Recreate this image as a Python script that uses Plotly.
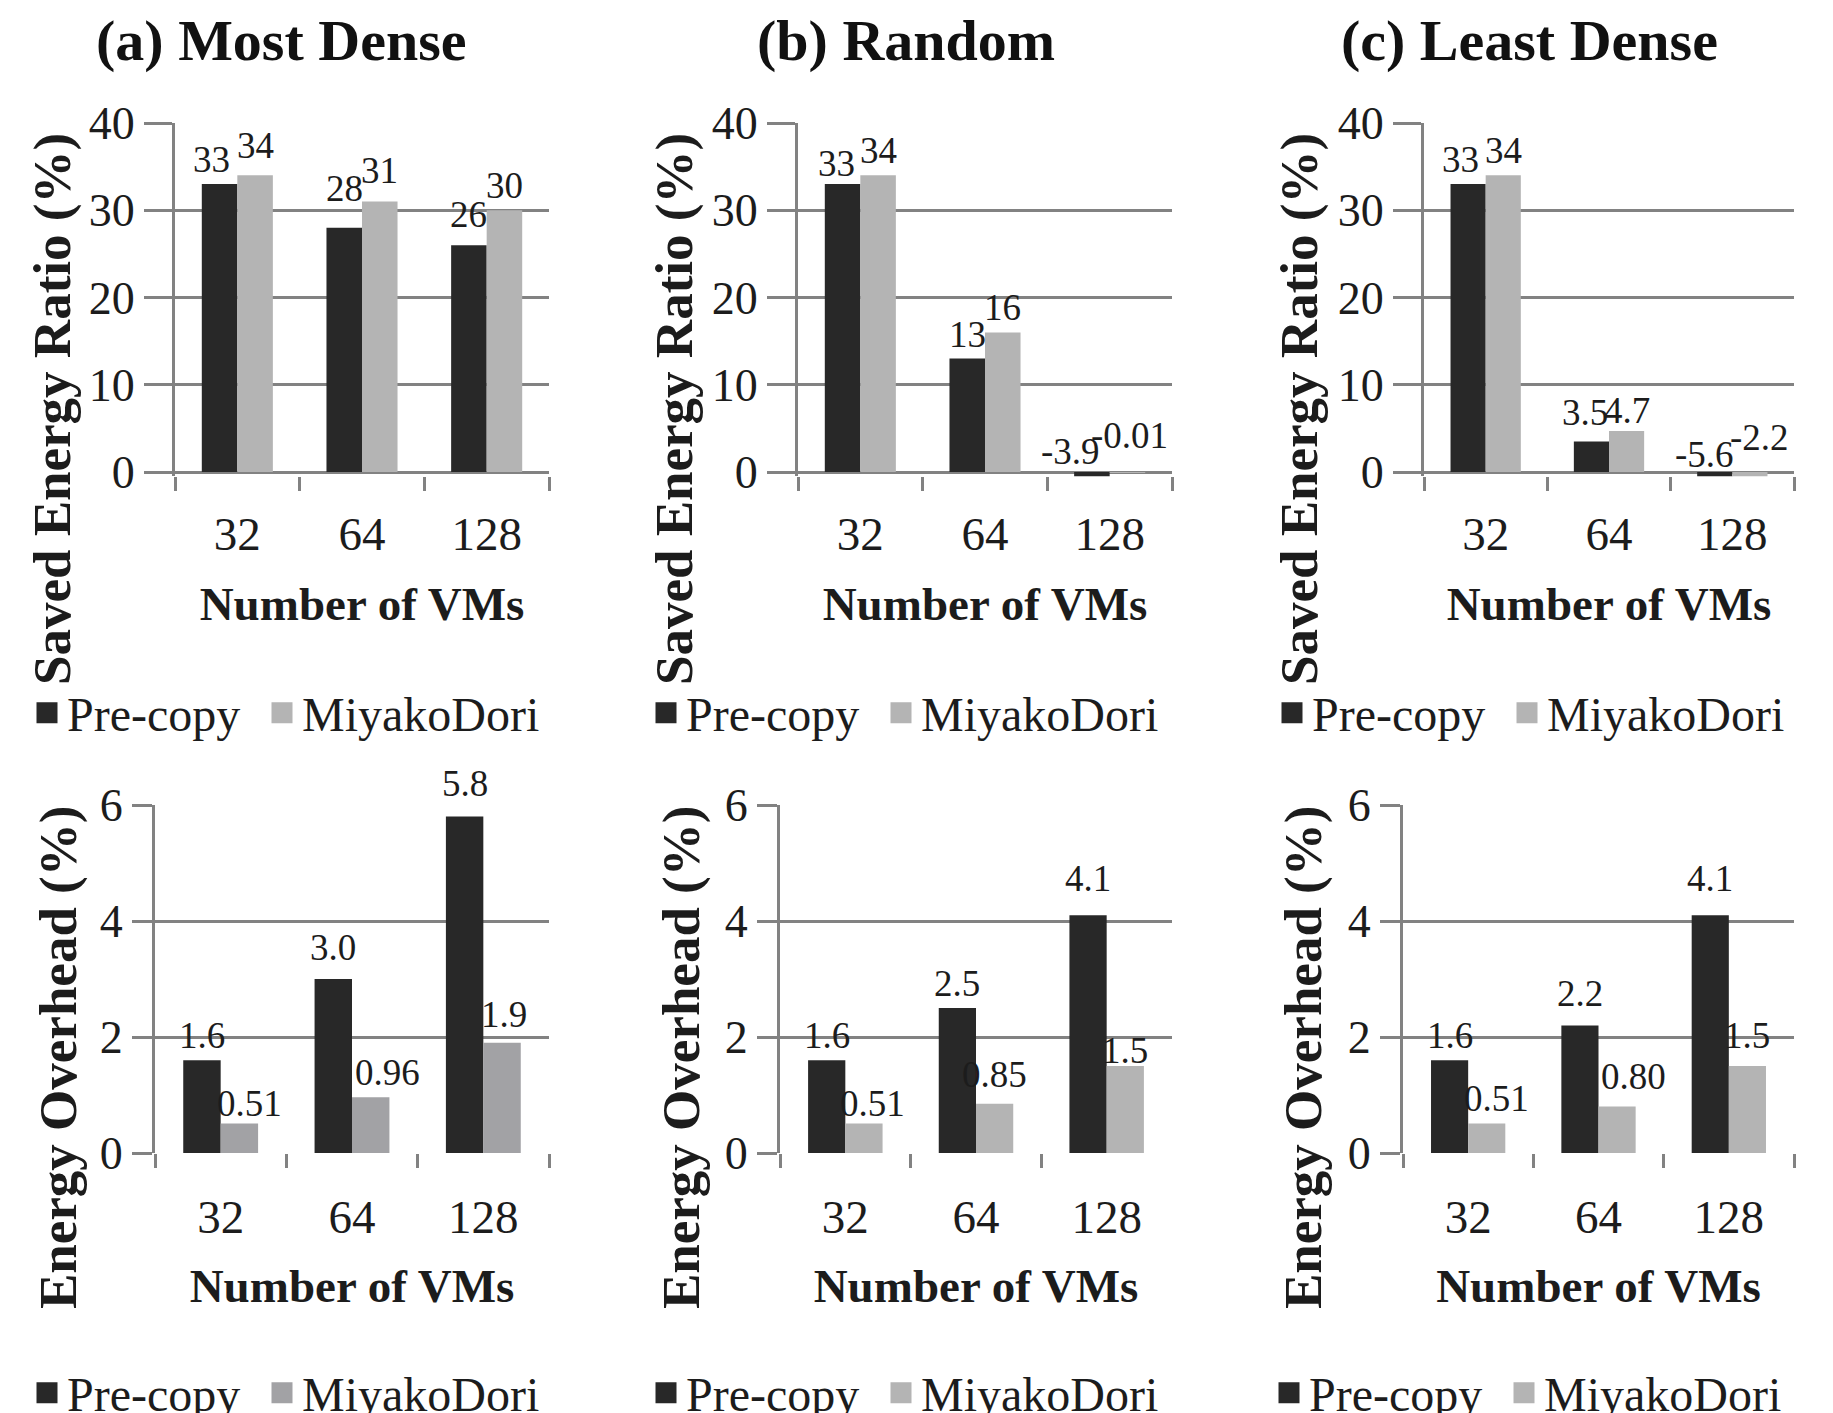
import plotly.graph_objects as go

# ---------------- data ----------------
categories = ["32", "64", "128"]
series_names = ["Pre-copy", "MiyakoDori"]
panel_titles = ["(a) Most Dense", "(b) Random", "(c) Least Dense"]

saved_precopy_most = [33, 28, 26]
saved_miyako_most = [34, 31, 30]
saved_precopy_random = [33, 13, -3.9]
saved_miyako_random = [34, 16, -0.01]
saved_precopy_least = [33, 3.5, -5.6]
saved_miyako_least = [34, 4.7, -2.2]

overhead_precopy_most = [1.6, 3.0, 5.8]
overhead_miyako_most = [0.51, 0.96, 1.9]
overhead_precopy_random = [1.6, 2.5, 4.1]
overhead_miyako_random = [0.51, 0.85, 1.5]
overhead_precopy_least = [1.6, 2.2, 4.1]
overhead_miyako_least = [0.51, 0.80, 1.5]

saved_ticks = [0, 10, 20, 30, 40]
overhead_ticks = [0, 2, 4, 6]

x_title = "Number of VMs"
saved_title = "Saved Energy Ratio (%)"
overhead_title = "Energy Overhead (%)"

# ---------------- style / geometry ----------------
W, H = 1833, 1413
OFF = 8  # page body margin compensation
FONT = "Liberation Serif"
TXT = "#1c1c1c"
GRID = "#828282"
DARK = "#282828"
LIGHT = "#b4b4b4"
LIGHT_ALT = "#a2a2a5"

top_x = [(175, 549), (798, 1172), (1424, 1794)]
bot_x = [(155, 549), (780, 1172), (1403, 1794)]
top_y = (123, 472)
bot_y = (805, 1153)
top_neg = 0.5
BARGAP = 0.43

def px_x(p):
    return (p - OFF) / W

def px_y(p):
    return 1 - (p - OFF) / H

def fmt_saved(v):
    return f"{v:.2g}"

def fmt_over(v):
    return f"{v:#.2g}"

panels = [
    (saved_precopy_most, saved_miyako_most, fmt_saved, saved_ticks, 0),
    (saved_precopy_random, saved_miyako_random, fmt_saved, saved_ticks, 0),
    (saved_precopy_least, saved_miyako_least, fmt_saved, saved_ticks, 0),
    (overhead_precopy_most, overhead_miyako_most, fmt_over, overhead_ticks, 1),
    (overhead_precopy_random, overhead_miyako_random, fmt_over, overhead_ticks, 1),
    (overhead_precopy_least, overhead_miyako_least, fmt_over, overhead_ticks, 1),
]

# label placement tweaks (px): (panel, series, category) -> (dx, dy up)
label_nudge = {
    (0, 0, 0): (-8, 0), (0, 1, 0): (0, 5), (0, 0, 1): (0, 15), (0, 1, 1): (0, 7),
    (0, 0, 2): (0, 6),
    (1, 0, 0): (-6, -4),
    (1, 0, 2): (-21, -4), (1, 1, 2): (2, 12),
    (2, 0, 0): (-8, 0),
    (2, 0, 1): (-6, 4), (2, 1, 1): (0, -4),
    (2, 0, 2): (-10, -7), (2, 1, 2): (10, 10),
    (3, 1, 0): (10, -5), (3, 0, 1): (0, 7), (3, 1, 1): (17, 0), (3, 0, 2): (0, 9), (3, 1, 2): (2, 4),
    (4, 1, 0): (9, -5), (4, 1, 1): (0, 5), (4, 0, 2): (0, 12), (4, 1, 2): (0, -9),
    (5, 1, 0): (10, 0), (5, 0, 1): (0, 7), (5, 1, 1): (16, 6), (5, 0, 2): (0, 12), (5, 1, 2): (0, 6),
}

fig = go.Figure()
layout = dict(
    width=W, height=H,
    margin=dict(l=0, r=0, t=0, b=0, autoexpand=False),
    paper_bgcolor="white", plot_bgcolor="white",
    font=dict(family=FONT, color=TXT, size=40),
    barmode="group", bargap=BARGAP, bargroupgap=0,
    showlegend=True,
)
annotations = []

layout["xaxis7"] = dict(domain=[0, 0.001], visible=False, anchor="y7", fixedrange=True)
layout["yaxis7"] = dict(domain=[0, 0.001], visible=False, anchor="x7", fixedrange=True)

legend_widths = [190, 250]

for k, (pre, miy, fmt, ticks, row) in enumerate(panels):
    n = k + 1
    xa = "x" if n == 1 else f"x{n}"
    ya = "y" if n == 1 else f"y{n}"
    col = k % 3
    if row == 0:
        xl, xr = top_x[col]
        ytop, yzero = top_y
        vmax = ticks[-1]
        ppu = (yzero - ytop) / vmax
        ybot = yzero + top_neg * ppu
        yrange = [-top_neg, vmax]
        ticklen_y = 28
        tl_standoff, ttl_standoff = 26, 27
    else:
        xl, xr = bot_x[col]
        ytop, yzero = bot_y
        vmax = ticks[-1]
        ybot = yzero
        yrange = [0, vmax]
        ticklen_y = 20
        tl_standoff, ttl_standoff = 32, 27
    miy_color = LIGHT_ALT if k == 3 else LIGHT
    leg = "legend" if n == 1 else f"legend{n}"

    for si, (vals, color) in enumerate([(pre, DARK), (miy, miy_color)]):
        fig.add_trace(go.Bar(
            x=categories, y=vals, name=series_names[si],
            marker=dict(color=color, line=dict(width=0)),
            xaxis=xa, yaxis=ya, showlegend=False,
            hoverinfo="x+y",
        ))
        fig.add_trace(go.Scatter(
            x=[None], y=[None], mode="markers", name=series_names[si],
            marker=dict(symbol="square", size=16, color=color,
                        line=dict(color=color, width=5)),
            xaxis="x7", yaxis="y7", legend=leg, showlegend=True,
            legendwidth=legend_widths[si], hoverinfo="skip",
        ))

    cat_px = (xr - xl) / 3.0
    bar_w = cat_px * (1 - BARGAP) / 2
    for si, vals in enumerate([pre, miy]):
        for j, v in enumerate(vals):
            dx, dy = label_nudge.get((k, si, j), (0, 0))
            annotations.append(dict(
                x=j, y=max(v, 0), xref=xa, yref=ya,   # category index on a category axis
                text=fmt(v), showarrow=False, yanchor="bottom",
                xshift=(-0.5 if si == 0 else 0.5) * bar_w + dx,
                yshift=2 + dy,
                font=dict(family=FONT, size=37, color=TXT),
            ))

    layout["xaxis" if n == 1 else f"xaxis{n}"] = dict(
        domain=[px_x(xl), px_x(xr)], anchor=ya,
        type="category", categoryorder="array", categoryarray=categories,
        range=[-0.5, 2.5], automargin=False,
        showline=False, showgrid=False, zeroline=False,
        ticks="outside", tickson="boundaries", ticklen=14, tickwidth=3,
        tickcolor=GRID, tickangle=0, ticklabelstandoff=tl_standoff,
        tickfont=dict(family=FONT, size=47, color=TXT),
        title=dict(text=f"<b>{x_title}</b>", standoff=ttl_standoff,
                   font=dict(family=FONT, size=47, color=TXT)),
        fixedrange=True,
    )
    layout["yaxis" if n == 1 else f"yaxis{n}"] = dict(
        domain=[px_y(ybot), px_y(ytop)], anchor=xa,
        range=yrange, tickvals=ticks, ticktext=[str(t) for t in ticks],
        automargin=False,
        showline=True, linecolor=GRID, linewidth=3,
        showgrid=True, gridcolor=GRID, gridwidth=3, zeroline=False,
        ticks="outside", ticklen=ticklen_y, tickwidth=3, tickcolor=GRID,
        tickfont=dict(family=FONT, size=46, color=TXT),
        fixedrange=True,
    )

    leg_y = 713 if row == 0 else 1393
    leg_x = (xl - 148) if row == 0 else (xl - 128)
    if col > 0:
        leg_x = (xl - 152) if row == 0 else (xl - 134)
    layout[leg] = dict(
        orientation="h", x=px_x(leg_x),
        y=px_y(leg_y), xanchor="left", yanchor="middle",
        font=dict(family=FONT, size=48, color=TXT),
        bgcolor="rgba(0,0,0,0)", borderwidth=0,
        itemclick=False, itemdoubleclick=False,
        tracegroupgap=0, itemwidth=30,
    )

title_cx = [281, 906, 1529]
for i, t in enumerate(panel_titles):
    annotations.append(dict(
        x=px_x(title_cx[i]), y=px_y(41), xref="paper", yref="paper",
        text=f"<b>{t}</b>", showarrow=False, xanchor="center", yanchor="middle",
        font=dict(family=FONT, size=58, color="#111111"),
    ))

ytitle_pos = [(53, 409), (675, 409), (1300, 409), (58, 1058), (681, 1058), (1303, 1058)]
for k, (px, py) in enumerate(ytitle_pos):
    annotations.append(dict(
        x=px_x(px), y=px_y(py), xref="paper", yref="paper",
        text=f"<b>{saved_title if k < 3 else overhead_title}</b>",
        textangle=-90, showarrow=False, xanchor="center", yanchor="middle",
        font=dict(family=FONT, size=53, color=TXT),
    ))

layout["annotations"] = annotations
fig.update_layout(**layout)
fig.write_html("out.html")
